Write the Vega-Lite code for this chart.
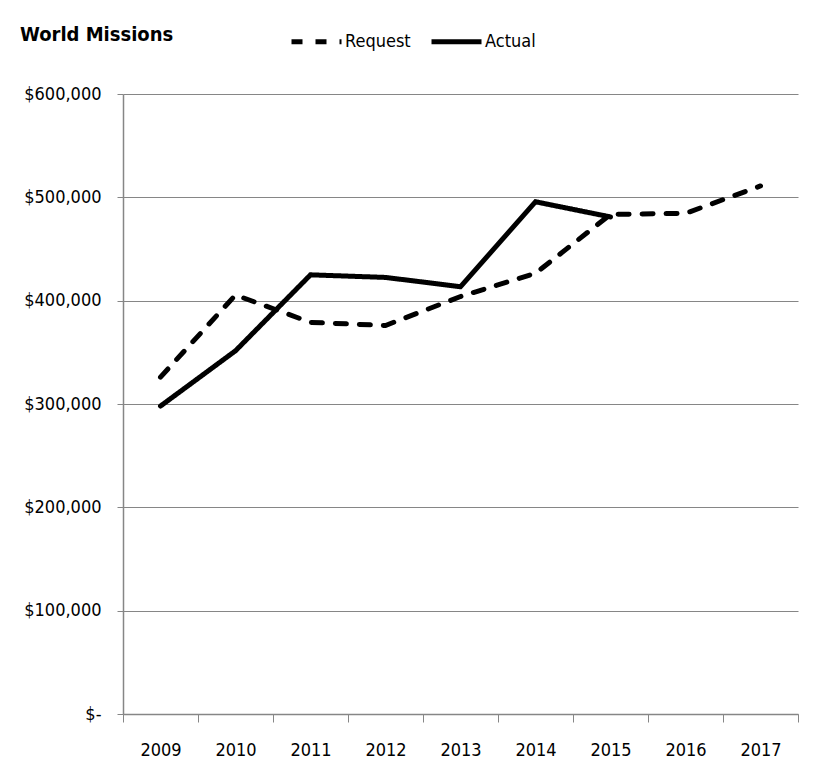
{
  "$schema": "https://vega.github.io/schema/vega-lite/v6.json",
  "width": 675,
  "height": 620,
  "autosize": "none",
  "padding": {"left": 123, "top": 94, "right": 17, "bottom": 64},
  "background": "white",
  "title": {
    "text": "World Missions",
    "anchor": "start",
    "frame": "group",
    "dx": -103,
    "dy": 35,
    "fontSize": 20,
    "fontWeight": "bold",
    "font": "DejaVu Sans Condensed, sans-serif",
    "color": "black"
  },
  "data": {
    "values": [
      {"year": "2009", "series": "Request", "value": 326000},
      {"year": "2010", "series": "Request", "value": 405500},
      {"year": "2011", "series": "Request", "value": 379000},
      {"year": "2012", "series": "Request", "value": 376000},
      {"year": "2013", "series": "Request", "value": 404000},
      {"year": "2014", "series": "Request", "value": 426500},
      {"year": "2015", "series": "Request", "value": 483500},
      {"year": "2016", "series": "Request", "value": 484500},
      {"year": "2017", "series": "Request", "value": 511000},
      {"year": "2009", "series": "Actual", "value": 298000},
      {"year": "2010", "series": "Actual", "value": 351500},
      {"year": "2011", "series": "Actual", "value": 425000},
      {"year": "2012", "series": "Actual", "value": 422500},
      {"year": "2013", "series": "Actual", "value": 413500},
      {"year": "2014", "series": "Actual", "value": 495700},
      {"year": "2015", "series": "Actual", "value": 481000}
    ]
  },
  "mark": {"type": "line", "strokeWidth": 5, "color": "black", "strokeCap": "round"},
  "encoding": {
    "x": {
      "field": "year",
      "type": "ordinal",
      "scale": {"type": "band", "paddingInner": 0, "paddingOuter": 0},
      "axis": {
        "title": null,
        "labelAngle": 0,
        "tickBand": "extent",
        "tickSize": 8,
        "tickColor": "#868686",
        "domainColor": "#868686",
        "domainWidth": 1.5,
        "labelPadding": 19,
        "labelFontSize": 18,
        "labelColor": "black",
        "labelFont": "DejaVu Sans Condensed, sans-serif",
        "grid": false
      }
    },
    "y": {
      "field": "value",
      "type": "quantitative",
      "scale": {"domain": [0, 600000], "nice": false},
      "axis": {
        "title": null,
        "values": [0, 100000, 200000, 300000, 400000, 500000, 600000],
        "labelExpr": "datum.value === 0 ? '$-' : '$' + format(datum.value, ',')",
        "grid": true,
        "gridColor": "#868686",
        "gridWidth": 1.2,
        "tickColor": "#868686",
        "tickSize": 6,
        "domainColor": "#868686",
        "domainWidth": 1.5,
        "labelPadding": 16,
        "labelFontSize": 18,
        "labelColor": "black",
        "labelFont": "DejaVu Sans Condensed, sans-serif"
      }
    },
    "strokeDash": {
      "field": "series",
      "type": "nominal",
      "scale": {"domain": ["Request", "Actual"], "range": [[11, 13], [1, 0]]},
      "legend": {
        "title": null,
        "orient": "none",
        "legendX": 166,
        "legendY": -80,
        "direction": "horizontal",
        "symbolType": "stroke",
        "symbolSize": 2500,
        "symbolStrokeWidth": 5,
        "symbolStrokeColor": "black",
        "labelFontSize": 18,
        "labelColor": "black",
        "labelFont": "DejaVu Sans Condensed, sans-serif",
        "labelOffset": 1,
        "columnPadding": 10,
        "padding": 0
      }
    }
  },
  "config": {"view": {"stroke": null}}
}
